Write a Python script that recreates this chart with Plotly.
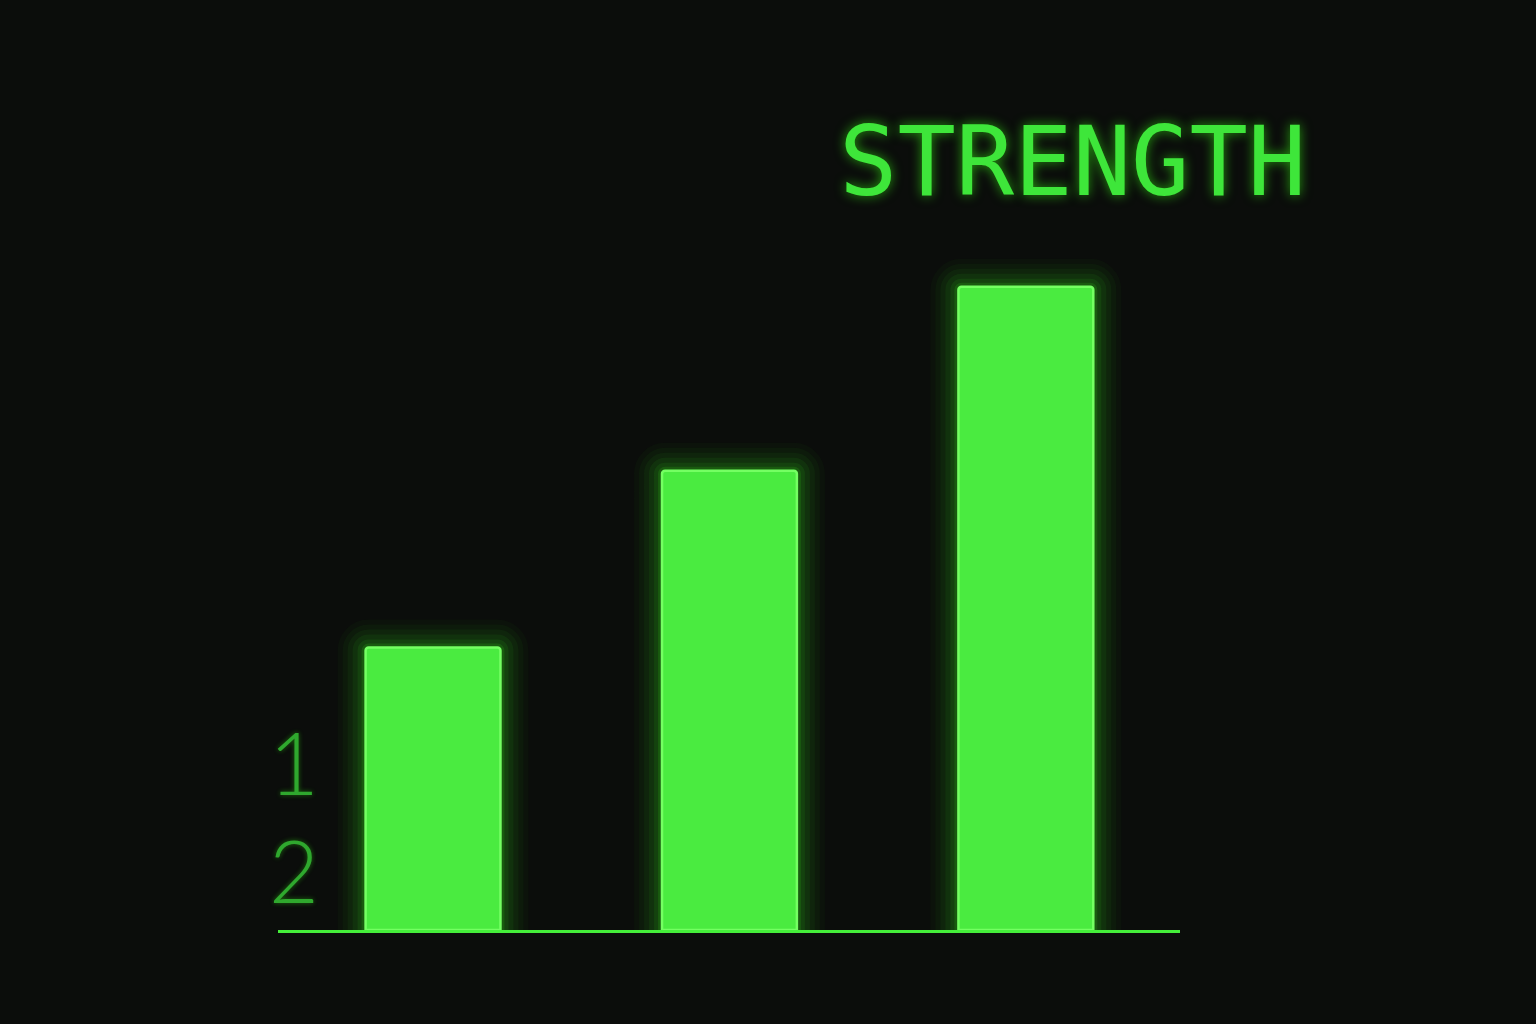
import plotly.graph_objects as go

# bar data
positions = [0, 1, 2]
strength = [35.3, 57.4, 80.4]

# odd y labels seen on the left edge
tick_vals = [20.6, 7.1]
tick_text = ["1", "2"]

title_text = "STRENGTH"

bg = "#0b0d0b"
green = "#4aeb40"
glow = "57,230,30"

fig = go.Figure()

# glow layers behind the bars (wide semi-transparent outlines)
for lw, alpha in [(56, 0.03), (46, 0.04), (36, 0.05), (26, 0.07), (16, 0.09), (8, 0.15)]:
    fig.add_trace(go.Bar(
        x=positions, y=strength, width=0.455,
        marker=dict(color="rgba(0,0,0,0)",
                    line=dict(color=f"rgba({glow},{alpha})", width=lw)),
        hoverinfo="skip", showlegend=False,
    ))

fig.add_trace(go.Bar(
    x=positions, y=strength, width=0.455,
    marker=dict(color=green, line=dict(color="#74ff62", width=2.5)),
    showlegend=False,
))

fig.update_layout(
    width=1536, height=1024,
    paper_bgcolor=bg, plot_bgcolor=bg,
    barmode="overlay", barcornerradius=3,
    margin=dict(l=278, r=356, t=130, b=94),
    title=dict(
        text=title_text, x=0.881, xref="paper", xanchor="center",
        y=1 - 161 / 1024, yref="container", yanchor="middle",
        font=dict(family="DejaVu Sans Mono", size=97, color="#3ee63a",
                  shadow="0px 0px 12px rgba(57,255,20,0.6)"),
    ),
    xaxis=dict(
        range=[-0.523, 2.52], showgrid=False, zeroline=False,
        showticklabels=False, showline=True, linecolor="#44ee3a", linewidth=3,
    ),
    yaxis=dict(
        range=[0, 100], showgrid=False, zeroline=False, showline=False,
        tickvals=tick_vals, ticktext=tick_text, ticks="",
        ticklabelposition="inside", ticklabelstandoff=-12,
        tickfont=dict(family="Lato", size=86, color="#2fa82e", weight=300,
                      shadow="0px 0px 5px rgba(57,255,20,0.4)"),
    ),
)

fig.write_html("out.html", config={"displayModeBar": False},
               post_script="document.body.style.margin='0';")
